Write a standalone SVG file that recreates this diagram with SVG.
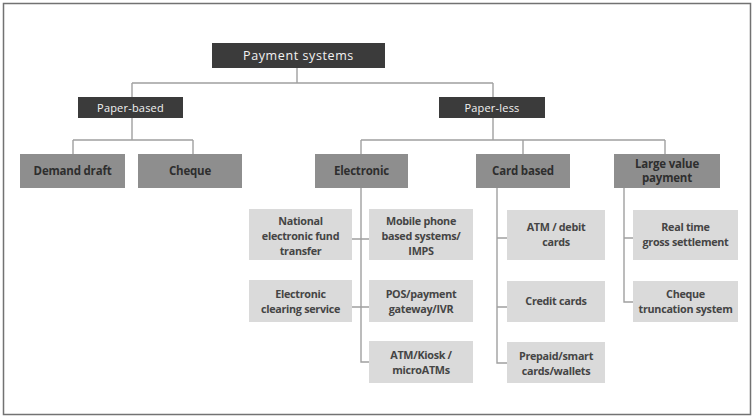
<svg xmlns="http://www.w3.org/2000/svg" width="753" height="418" viewBox="0 0 753 418">
<style>
text{font-family:"Open Sans","Liberation Sans",sans-serif;text-anchor:middle}
.d rect{fill:#3b3b3b}
.d text{fill:#f2f2f2;font-size:12.5px;letter-spacing:0.6px}
.m rect{fill:#8e8e8e}
.m text{fill:#2e2e2e;font-size:11.5px;font-weight:700;letter-spacing:-0.2px}
.l rect{fill:#dadada}
.l text{fill:#454545;font-size:10.8px;font-weight:700;letter-spacing:-0.3px}
#connectors path{fill:none;stroke:#a0a0a0;stroke-width:1.4}
</style>
<rect x="0" y="0" width="753" height="418" fill="#fff"/>
<rect x="3.5" y="3.5" width="747" height="411" fill="none" stroke="#727272" stroke-width="1.5"/>
<g id="connectors">
<path d="M297 68V83M132 83H493M132 83V97M493 83V97"/>
<path d="M132 118V140M73 140H193M73 140V154M193 140V154"/>
<path d="M493 118V140M361 140H665M361 140V154M523 140V154M665 140V154"/>
<path d="M361 188V362H369M352 239H369M352 307H369"/>
<path d="M497 188V363H507M497 238H507M497 307H507"/>
<path d="M624 188V302H633M624 238H633"/>
</g>
<g id="payment-systems" class="d"><rect x="212" y="43" width="173" height="25"/><text x="298.5" y="60">Payment systems</text></g>
<g id="paper-based" class="d"><rect x="78" y="97" width="105" height="21"/><text x="130.5" y="111.5" style="font-size:11px;letter-spacing:0.2px">Paper-based</text></g>
<g id="paper-less" class="d"><rect x="439" y="97" width="106" height="21"/><text x="492" y="111.5" style="font-size:11px;letter-spacing:0.2px">Paper-less</text></g>
<g id="demand-draft" class="m"><rect x="20" y="154" width="105" height="34"/><text x="72.5" y="175">Demand draft</text></g>
<g id="cheque" class="m"><rect x="138" y="154" width="104" height="34"/><text x="190" y="175">Cheque</text></g>
<g id="electronic" class="m"><rect x="315" y="154" width="93" height="34"/><text x="361.5" y="175">Electronic</text></g>
<g id="card-based" class="m"><rect x="476" y="154" width="94" height="34"/><text x="523" y="175">Card based</text></g>
<g id="large-value" class="m"><rect x="614" y="154" width="106" height="34"/><text x="667" y="168">Large value</text><text x="667" y="181.5">payment</text></g>
<g id="neft" class="l"><rect x="249" y="209" width="103" height="51"/><text x="300.5" y="224.5">National</text><text x="300.5" y="239.5">electronic fund</text><text x="300.5" y="254.5">transfer</text></g>
<g id="mobile" class="l"><rect x="369" y="209" width="104" height="51"/><text x="421" y="224.5">Mobile phone</text><text x="421" y="239.5">based systems/</text><text x="421" y="254.5">IMPS</text></g>
<g id="ecs" class="l"><rect x="249" y="280" width="103" height="42"/><text x="300.5" y="298">Electronic</text><text x="300.5" y="313">clearing service</text></g>
<g id="pos" class="l"><rect x="369" y="280" width="104" height="42"/><text x="421" y="298">POS/payment</text><text x="421" y="313">gateway/IVR</text></g>
<g id="atm-kiosk" class="l"><rect x="369" y="341" width="104" height="42"/><text x="421" y="359">ATM/Kiosk /</text><text x="421" y="374">microATMs</text></g>
<g id="atm-debit" class="l"><rect x="507" y="210" width="98" height="50"/><text x="556" y="231">ATM / debit</text><text x="556" y="246">cards</text></g>
<g id="credit" class="l"><rect x="507" y="281" width="98" height="41"/><text x="556" y="305">Credit cards</text></g>
<g id="prepaid" class="l"><rect x="507" y="342" width="98" height="41"/><text x="556" y="360">Prepaid/smart</text><text x="556" y="375">cards/wallets</text></g>
<g id="rtgs" class="l"><rect x="633" y="210" width="105" height="50"/><text x="685.5" y="231">Real time</text><text x="685.5" y="246">gross settlement</text></g>
<g id="cts" class="l"><rect x="633" y="281" width="105" height="41"/><text x="685.5" y="298">Cheque</text><text x="685.5" y="313">truncation system</text></g>
</svg>
